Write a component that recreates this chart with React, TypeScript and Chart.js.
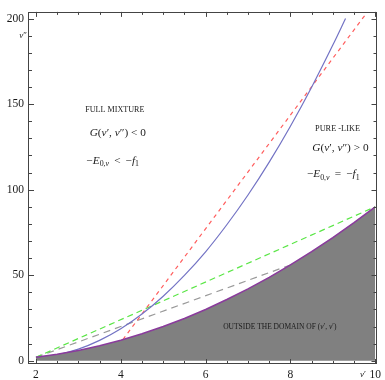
import React, { useEffect, useRef } from 'react';
import { Chart, registerables } from 'chart.js';

Chart.register(...registerables);

// ---- data ----
const boundaryX = [2, 2.5, 3, 3.5, 4, 4.5, 5, 5.5, 6, 6.5, 7, 7.5, 8, 8.5, 9, 9.5, 10];
const boundaryY = [2, 3.75, 6, 8.75, 12, 15.75, 20, 24.75, 30, 35.75, 42, 48.75, 56, 63.75, 72, 80.75, 90];

const blueX = [2, 2.5, 3, 3.5, 4, 4.5, 5, 5.5, 6, 6.5, 7, 7.5, 8, 8.5, 9, 9.3];
const blueY = [2, 3.5, 6.8, 11.9, 18.7, 27.3, 37.7, 49.9, 63.7, 79.5, 96.9, 116.1, 137.1, 159.9, 184.5, 200];

const redX = [4.05, 10];
const redY = [12.4, 210];

const greenX = [2, 10];
const greenY = [2, 90];

const greyX = [2, 8];
const greyY = [2, 56];

const xTickLabels = [2, 4, 6, 8, 10];
const yTickLabels = [0, 50, 100, 150, 200];
const xMinorTicks = [2, 2.5, 3, 3.5, 4, 4.5, 5, 5.5, 6, 6.5, 7, 7.5, 8, 8.5, 9, 9.5, 10];
const yMinorTicks = [0, 10, 20, 30, 40, 50, 60, 70, 80, 90, 100, 110, 120, 130, 140, 150, 160, 170, 180, 190, 200];

const X_MIN = 1.836;
const X_MAX = 10.03;
const Y_MIN = -1.9;
const Y_MAX = 203.9;

type SegKind = 'n' | 'i' | 's' | 'si';
type Seg = [string, SegKind];

interface Note {
  x: number;
  y: number;
  size: number;
  segs: Seg[];
}

const notes: Note[] = [
  { x: 3.86, y: 146.4, size: 8.1, segs: [['FULL MIXTURE', 'n']] },
  {
    x: 3.93, y: 133.0, size: 11.3,
    segs: [['G', 'i'], ['(', 'n'], ['v', 'i'], ['\u2032, ', 'n'], ['v', 'i'], ['\u2033) < 0', 'n']],
  },
  {
    x: 3.81, y: 116.9, size: 11.3,
    segs: [['\u2212', 'n'], ['E', 'i'], ['0,', 's'], ['v', 'si'], ['\u2009 < \u2009\u2212', 'n'], ['f', 'i'], ['1', 's']],
  },
  { x: 9.11, y: 135.3, size: 8.3, segs: [['PURE -LIKE', 'n']] },
  {
    x: 9.18, y: 124.4, size: 11.3,
    segs: [['G', 'i'], ['(', 'n'], ['v', 'i'], ['\u2032, ', 'n'], ['v', 'i'], ['\u2033) > 0', 'n']],
  },
  {
    x: 9.01, y: 109.0, size: 11.3,
    segs: [['\u2212', 'n'], ['E', 'i'], ['0,', 's'], ['v', 'si'], ['\u2009 = \u2009\u2212', 'n'], ['f', 'i'], ['1', 's']],
  },
  {
    x: 7.75, y: 20.0, size: 7.5,
    segs: [['OUTSIDE THE DOMAIN OF (', 'n'], ['v', 'i'], ['\u2032, ', 'n'], ['v', 'i'], ['\u2032)', 'n']],
  },
];

const FAMILY = '"Liberation Serif", "DejaVu Serif", serif';

function fontFor(kind: SegKind, size: number): string {
  if (kind === 'i') return `italic ${size}px ${FAMILY}`;
  if (kind === 's') return `${(size * 0.7).toFixed(1)}px ${FAMILY}`;
  if (kind === 'si') return `italic ${(size * 0.7).toFixed(1)}px ${FAMILY}`;
  return `${size}px ${FAMILY}`;
}

function drawRich(ctx: CanvasRenderingContext2D, segs: Seg[], cx: number, cy: number, size: number, align: 'center' | 'right' = 'center') {
  let total = 0;
  const widths: number[] = [];
  for (const [t, k] of segs) {
    ctx.font = fontFor(k, size);
    const w = ctx.measureText(t).width;
    widths.push(w);
    total += w;
  }
  let xx = align === 'center' ? cx - total / 2 : cx - total;
  ctx.textAlign = 'left';
  ctx.textBaseline = 'middle';
  segs.forEach(([t, k], i) => {
    ctx.font = fontFor(k, size);
    const dy = k === 's' || k === 'si' ? size * 0.28 : 0;
    ctx.fillText(t, xx, cy + dy);
    xx += widths[i];
  });
}

const framePlugin = {
  id: 'mmaFrame',
  afterDatasetsDraw(chart: any) {
    const { ctx, chartArea: a, scales } = chart;
    const xs = scales.x;
    const ys = scales.y;
    ctx.save();
    // frame
    ctx.strokeStyle = '#444';
    ctx.lineWidth = 1;
    ctx.strokeRect(Math.round(a.left) - 0.5, Math.round(a.top) + 0.5, Math.round(a.right - a.left), Math.round(a.bottom - a.top) - 1);
    // inward ticks
    ctx.beginPath();
    for (const v of xMinorTicks) {
      const px = Math.round(xs.getPixelForValue(v)) + 0.5;
      const len = xTickLabels.includes(v) ? 5 : 3;
      ctx.moveTo(px, a.bottom);
      ctx.lineTo(px, a.bottom - len);
      ctx.moveTo(px, a.top);
      ctx.lineTo(px, a.top + len);
    }
    for (const v of yMinorTicks) {
      const py = Math.round(ys.getPixelForValue(v)) + 0.5;
      const len = yTickLabels.includes(v) ? 5 : 3;
      ctx.moveTo(a.left, py);
      ctx.lineTo(a.left + len, py);
      ctx.moveTo(a.right, py);
      ctx.lineTo(a.right - len, py);
    }
    ctx.stroke();

    // annotations
    ctx.fillStyle = '#1a1a1a';
    for (const n of notes) {
      drawRich(ctx, n.segs, xs.getPixelForValue(n.x), ys.getPixelForValue(n.y), n.size);
    }
    // axis labels
    drawRich(ctx, [['v', 'i'], ['\u2033', 'n']], a.left - 2, ys.getPixelForValue(190.2), 9, 'right');
    drawRich(ctx, [['v', 'i'], ['\u2032', 'n']], xs.getPixelForValue(9.71), a.bottom + 11, 9);
    ctx.restore();
  },
};

function pts(xs: number[], ys: number[]) {
  return xs.map((x, i) => ({ x, y: ys[i] }));
}

export default function App() {
  const ref = useRef<HTMLCanvasElement | null>(null);

  useEffect(() => {
    if (!ref.current) return;
    const chart = new Chart(ref.current, {
      type: 'scatter',
      data: {
        datasets: [
          {
            label: 'boundary',
            data: pts(boundaryX, boundaryY),
            showLine: true,
            borderColor: '#8a3b9c',
            borderWidth: 1.6,
            backgroundColor: '#808080',
            fill: 'origin',
            pointRadius: 0,
            tension: 0,
          },
          {
            label: 'blue',
            data: pts(blueX, blueY),
            showLine: true,
            borderColor: '#7373c4',
            borderWidth: 1.2,
            pointRadius: 0,
            cubicInterpolationMode: 'monotone',
            fill: false,
          },
          {
            label: 'red',
            data: pts(redX, redY),
            showLine: true,
            borderColor: '#ff5e5e',
            borderWidth: 1.2,
            borderDash: [4, 4],
            pointRadius: 0,
            fill: false,
          },
          {
            label: 'green',
            data: pts(greenX, greenY),
            showLine: true,
            borderColor: '#5ae646',
            borderWidth: 1.2,
            borderDash: [6, 4],
            pointRadius: 0,
            fill: false,
          },
          {
            label: 'grey',
            data: pts(greyX, greyY),
            showLine: true,
            borderColor: '#9a9a9a',
            borderWidth: 1.2,
            borderDash: [7, 5],
            pointRadius: 0,
            fill: false,
          },
        ],
      },
      options: {
        animation: false,
        responsive: false,
        devicePixelRatio: 1,
        layout: { padding: { top: 7, right: 6, left: 0, bottom: 0 } },
        plugins: { legend: { display: false }, tooltip: { enabled: false } },
        scales: {
          x: {
            type: 'linear',
            min: X_MIN,
            max: X_MAX,
            grid: { display: false, drawTicks: false },
            border: { display: false },
            afterBuildTicks: (s: any) => {
              s.ticks = xTickLabels.map((v) => ({ value: v }));
            },
            afterFit: (s: any) => {
              s.height = 16;
            },
            ticks: {
              color: '#1a1a1a',
              font: { family: FAMILY, size: 11.5 },
              padding: 4,
              maxRotation: 0,
              autoSkip: false,
            },
          },
          y: {
            type: 'linear',
            min: Y_MIN,
            max: Y_MAX,
            grid: { display: false, drawTicks: false },
            border: { display: false },
            afterBuildTicks: (s: any) => {
              s.ticks = yTickLabels.map((v) => ({ value: v }));
            },
            afterFit: (s: any) => {
              s.width = 29;
            },
            ticks: {
              color: '#1a1a1a',
              font: { family: FAMILY, size: 11.5 },
              padding: 5,
              autoSkip: false,
            },
          },
        },
      } as any,
      plugins: [framePlugin],
    });
    return () => chart.destroy();
  }, []);

  return (
    <div style={{ position: 'fixed', left: 0, top: 0, width: 385, height: 380, background: '#fff' }}>
      <canvas ref={ref} width={385} height={380} style={{ width: 385, height: 380, display: 'block' }} />
    </div>
  );
}
